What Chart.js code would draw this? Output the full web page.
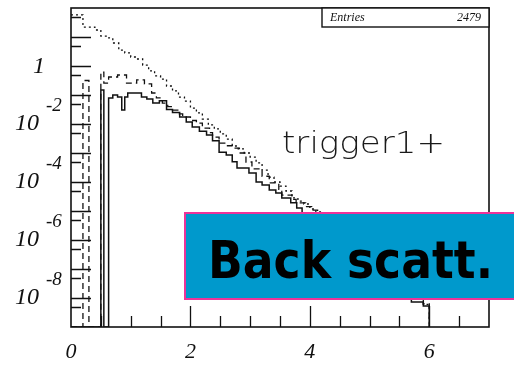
<!DOCTYPE html>
<html>
<head>
<meta charset="utf-8">
<script src="https://cdn.jsdelivr.net/npm/chart.js@4.4.1/dist/chart.umd.min.js"></script>
<style>
  body { margin: 0; background: #fff; }
  canvas { display: block; }
</style>
</head>
<body>
<canvas id="histo" width="514" height="365"></canvas>
<script>
// Histogram contents: lower bin edge + content, last point closes the histogram (0 = empty bin)
const dottedEdges = [0, 0.2, 0.4, 0.5, 0.6, 0.7, 0.8, 0.9, 1.0, 1.1, 1.2, 1.3, 1.4, 1.5, 1.6, 1.7, 1.8, 1.9,
  2.0, 2.1, 2.2, 2.3, 2.4, 2.5, 2.6, 2.7, 2.8, 2.9, 3.0, 3.1, 3.2, 3.3, 3.4, 3.5, 3.6, 3.7, 3.8, 3.9,
  4.0, 4.1, 4.2, 4.3, 4.4, 4.5, 4.6, 4.7, 4.8, 4.9, 5.0, 5.1, 5.2, 5.3, 5.4, 5.5, 5.6, 5.7, 5.8, 5.9, 6.0];
const dottedValues = [57.5, 21.9, 17.4, 10.7, 9.3, 6.2, 3.55, 2.82, 2.04, 1.74, 1.07, 0.676, 0.457, 0.355, 0.204, 0.138, 0.0851, 0.0617,
  0.0355, 0.024, 0.0148, 9.33e-3, 6.76e-3, 4.57e-3, 3.02e-3, 1.74e-3, 1.38e-3, 1.0e-3, 7.24e-4, 4.57e-4, 2.57e-4, 1.48e-4, 1.0e-4, 7.24e-5, 4.9e-5, 2.82e-5, 2.19e-5, 1.74e-5,
  1.17e-5, 9.3e-6, 5.0e-6, 3.2e-6, 2.0e-6, 1.3e-6, 8e-7, 5e-7, 3.2e-7, 2e-7, 1.3e-7, 8e-8, 5.6e-8, 4e-8, 2.8e-8, 2e-8, 1.4e-8, 1.2e-8, 1.0e-8, 6e-9, 0];

const dashedEdges = [0, 0.2, 0.3, 0.5, 0.55, 0.63, 0.78, 0.93, 1.1, 1.23, 1.35, 1.43, 1.53, 1.62, 1.7, 1.8, 1.87, 2.0, 2.1, 2.2,
  2.32, 2.37, 2.48, 2.6, 2.7, 2.82, 2.93, 3.03, 3.2, 3.32, 3.48, 3.53, 3.7, 3.77, 3.93, 4.03, 4.13, 4.2, 4.3, 4.4,
  4.5, 4.6, 4.7, 4.8, 4.9, 5.0, 5.1, 5.2, 5.3, 5.4, 5.5, 5.6, 5.7, 5.8, 5.9, 6.0];
const dashedValues = [0, 0.316, 0, 0.617, 0.257, 0.417, 0.49, 0.257, 0.331, 0.24, 0.117, 0.0794, 0.0525, 0.0398, 0.0302, 0.0224, 0.0174, 0.0132, 0.0107, 7.24e-3,
  5.01e-3, 3.55e-3, 2.19e-3, 1.78e-3, 1.48e-3, 1e-3, 4.9e-4, 2.82e-4, 1.58e-4, 9.33e-5, 5.62e-5, 3.55e-5, 2.51e-5, 1.91e-5, 1.41e-5, 1.07e-5, 6.31e-6, 4.47e-6, 2.82e-6, 1.78e-6,
  1.12e-6, 7.08e-7, 5.01e-7, 3.16e-7, 2e-7, 1.41e-7, 1e-7, 6.31e-8, 4.47e-8, 3.16e-8, 2.24e-8, 1.58e-8, 1.12e-8, 1e-8, 6.31e-9, 0];

const solidEdges = [0, 0.5, 0.55, 0.63, 0.7, 0.78, 0.85, 0.9, 0.95, 1.18, 1.27, 1.37, 1.48, 1.6, 1.7, 1.82, 1.93, 2.03, 2.15, 2.27,
  2.37, 2.48, 2.6, 2.7, 2.78, 2.98, 3.1, 3.2, 3.32, 3.43, 3.53, 3.68, 3.78, 3.87, 4.0, 4.1, 4.2, 4.3, 4.4, 4.5,
  4.6, 4.7, 4.8, 4.9, 5.0, 5.1, 5.2, 5.3, 5.4, 5.5, 5.6, 5.7, 5.9, 6.0];
const solidValues = [0, 0.148, 0, 0.0794, 0.1, 0.0851, 0.0302, 0.0851, 0.117, 0.0851, 0.0724, 0.0525, 0.0631, 0.0316, 0.0251, 0.0174, 0.0117, 7.94e-3, 5.62e-3, 4.17e-3,
  2.63e-3, 1.07e-3, 8.51e-4, 5.01e-4, 3.02e-4, 2.04e-4, 1e-4, 7.94e-5, 5.25e-5, 4.17e-5, 2.82e-5, 1.91e-5, 1.26e-5, 7.94e-6, 5.01e-6, 3.16e-6, 2e-6, 1.41e-6, 1e-6, 6.31e-7,
  4.47e-7, 3.16e-7, 2e-7, 1.41e-7, 1e-7, 7.08e-8, 5.01e-8, 3.55e-8, 2.51e-8, 1.78e-8, 1.26e-8, 7.24e-9, 5.25e-9, 0];

// Axes
const xMin = 0, xMax = 7;
const yMin = 1e-9, yMax = 1e2;
const xLabelValues = [0, 2, 4, 6];
const xLabels = ['0', '2', '4', '6'];
const xTickValues = [0.5, 1, 1.5, 2, 2.5, 3, 3.5, 4, 4.5, 5, 5.5, 6, 6.5];
const yLabelValues = [1, 1e-2, 1e-4, 1e-6, 1e-8];
const yLabelExps = ['', '-2', '-4', '-6', '-8'];
const yMajorTicks = [1e1, 1, 1e-1, 1e-2, 1e-3, 1e-4, 1e-5, 1e-6, 1e-7, 1e-8];
const yMinorTicks = [5e1, 5, 5e-1, 5e-2, 5e-3, 5e-4, 5e-5, 5e-6, 5e-7, 5e-8, 5e-9];

const entriesLabel = 'Entries';
const entriesCount = '2479';
const histoTitle = 'trigger1+';
const bannerText = 'Back scatt.';

// empty bins sit on the bottom of the log axis
function toPoints(edges, values) {
  return edges.map((e, i) => ({ x: e, y: values[i] > 0 ? values[i] : yMin }));
}

function fitText(ctx, text, x, y, width) {
  const w = ctx.measureText(text).width;
  ctx.save();
  ctx.translate(x, y);
  ctx.scale(width / w, 1);
  ctx.fillText(text, 0, 0);
  ctx.restore();
}

// ROOT-like frame, inward ticks, labels, stats box and the slide banner
const rootFrame = {
  id: 'rootFrame',
  afterDatasetsDraw(chart) {
    const { ctx, chartArea: a, scales: { x, y } } = chart;
    ctx.save();
    ctx.strokeStyle = '#111';
    ctx.lineWidth = 1.6;
    ctx.strokeRect(a.left, a.top, a.right - a.left, a.bottom - a.top);

    ctx.lineWidth = 1.3;
    ctx.beginPath();
    xTickValues.forEach(v => {
      const px = Math.round(x.getPixelForValue(v)) + 0.5;
      const len = xLabelValues.includes(v) ? 21 : 11;
      ctx.moveTo(px, a.bottom);
      ctx.lineTo(px, a.bottom - len);
    });
    yMajorTicks.forEach(v => {
      const py = Math.round(y.getPixelForValue(v)) + 0.5;
      ctx.moveTo(a.left, py);
      ctx.lineTo(a.left + 20, py);
    });
    yMinorTicks.forEach(v => {
      const py = Math.round(y.getPixelForValue(v)) + 0.5;
      ctx.moveTo(a.left, py);
      ctx.lineTo(a.left + 10, py);
    });
    ctx.stroke();

    // tick labels
    ctx.fillStyle = '#111';
    ctx.textBaseline = 'middle';
    ctx.font = 'italic 22px "Liberation Serif"';
    ctx.textAlign = 'center';
    xLabelValues.forEach((v, i) => {
      ctx.fillText(xLabels[i], x.getPixelForValue(v), 352);
    });
    yLabelValues.forEach((v, i) => {
      const py = y.getPixelForValue(v);
      ctx.font = 'italic 24px "Liberation Serif"';
      if (yLabelExps[i] === '') {
        ctx.textAlign = 'right';
        ctx.fillText('1', 45, py + 1);
      } else {
        ctx.textAlign = 'right';
        ctx.fillText('10', 39, py);
        ctx.font = 'italic 19px "Liberation Serif"';
        ctx.textAlign = 'left';
        ctx.fillText(yLabelExps[i], 46, py - 18);
      }
    });

    // stats box
    ctx.fillStyle = '#fff';
    ctx.fillRect(322, a.top, a.right - 322, 19);
    ctx.lineWidth = 1.4;
    ctx.strokeRect(322, a.top, a.right - 322, 19);
    ctx.fillStyle = '#111';
    ctx.font = 'italic 12px "Liberation Serif"';
    ctx.textAlign = 'left';
    ctx.fillText(entriesLabel, 330, 18);
    ctx.textAlign = 'right';
    ctx.fillText(entriesCount, 481, 18);

    // histogram name
    ctx.textAlign = 'left';
    ctx.textBaseline = 'alphabetic';
    ctx.fillStyle = '#1a1a1a';
    ctx.font = '200 31px "DejaVu Sans"';
    fitText(ctx, histoTitle, 282, 153, 163);

    // banner
    ctx.fillStyle = '#0099cc';
    ctx.fillRect(185, 213, 340, 86);
    ctx.strokeStyle = '#ee3399';
    ctx.lineWidth = 2;
    ctx.strokeRect(185, 213, 340, 86);
    ctx.fillStyle = '#000';
    ctx.font = 'bold 52px "DejaVu Sans"';
    fitText(ctx, bannerText, 208, 278, 285);
    ctx.restore();
  }
};

new Chart(document.getElementById('histo'), {
  type: 'line',
  data: {
    datasets: [
      {
        label: 'dotted',
        data: toPoints(dottedEdges, dottedValues),
        borderColor: '#111',
        borderWidth: 1.3,
        borderDash: [2, 3],
        stepped: 'before',
        pointRadius: 0
      },
      {
        label: 'dashed',
        data: toPoints(dashedEdges, dashedValues),
        borderColor: '#111',
        borderWidth: 1.3,
        borderDash: [6, 4],
        stepped: 'before',
        pointRadius: 0
      },
      {
        label: 'solid',
        data: toPoints(solidEdges, solidValues),
        borderColor: '#111',
        borderWidth: 1.5,
        stepped: 'before',
        pointRadius: 0
      }
    ]
  },
  options: {
    responsive: false,
    animation: false,
    devicePixelRatio: 1,
    layout: { padding: { left: 71, top: 8, right: 25, bottom: 38 } },
    scales: {
      x: { type: 'linear', min: xMin, max: xMax, display: false },
      y: { type: 'logarithmic', min: yMin, max: yMax, display: false }
    },
    plugins: {
      legend: { display: false },
      tooltip: { enabled: false }
    }
  },
  plugins: [rootFrame]
});
</script>
</body>
</html>
